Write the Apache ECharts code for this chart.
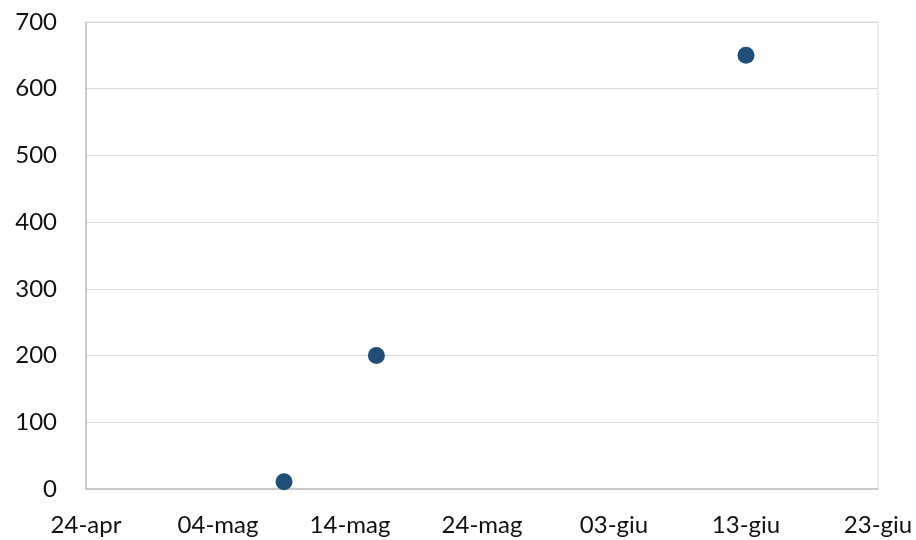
<!DOCTYPE html>
<html>
<head>
<meta charset="utf-8">
<script src="https://cdn.jsdelivr.net/npm/echarts@6/dist/echarts.min.js"></script>
<style>
  html, body { margin: 0; padding: 0; background: #ffffff; }
  #chart { width: 916px; height: 540px; }
</style>
</head>
<body>
<div id="chart"></div>
<script>
// Observation dates and measured values
const dates = ['2020-05-09', '2020-05-16', '2020-06-13'];
const values = [11, 200, 650];

// Axis range: start date, length in days, tick step in days
const startDate = '2020-04-24';
const spanDays = 60;
const stepDays = 10;
const yTicks = [0, 100, 200, 300, 400, 500, 600, 700];

const monthNames = ['gen', 'feb', 'mar', 'apr', 'mag', 'giu', 'lug', 'ago', 'set', 'ott', 'nov', 'dic'];
const DAY = 86400000;
const base = Date.parse(startDate + 'T00:00:00Z');

function dayOffset(d) {
  return Math.round((Date.parse(d + 'T00:00:00Z') - base) / DAY);
}
function fmtDay(v) {
  const d = new Date(base + v * DAY);
  const dd = String(d.getUTCDate()).padStart(2, '0');
  return dd + '-' + monthNames[d.getUTCMonth()];
}

const points = dates.map((d, i) => [dayOffset(d), values[i]]);

const chart = echarts.init(document.getElementById('chart'), null, { renderer: 'canvas' });
chart.setOption({
  animation: false,
  backgroundColor: '#ffffff',
  grid: {
    left: 86, right: 38, top: 22, bottom: 51,
    show: true, borderColor: '#d9d9d9', borderWidth: 1
  },
  xAxis: {
    type: 'value',
    min: 0, max: spanDays, interval: stepDays,
    axisLine: { show: true, lineStyle: { color: '#bfbfbf', width: 1.5 } },
    axisTick: { show: false },
    splitLine: { show: false },
    axisLabel: {
      formatter: fmtDay, margin: 24,
      color: '#111111', fontFamily: 'Lato', fontSize: 24
    }
  },
  yAxis: {
    type: 'value',
    min: yTicks[0], max: yTicks[yTicks.length - 1], interval: yTicks[1] - yTicks[0],
    axisLine: { show: true, lineStyle: { color: '#bfbfbf', width: 1.5 } },
    axisTick: { show: false },
    splitLine: { show: true, lineStyle: { color: '#d9d9d9', width: 1 } },
    axisLabel: {
      margin: 29,
      color: '#111111', fontFamily: 'Lato', fontSize: 24
    }
  },
  series: [{
    type: 'scatter',
    data: points,
    symbol: 'circle',
    symbolSize: 17,
    itemStyle: { color: '#1f4e79', opacity: 1 }
  }]
});
</script>
</body>
</html>
